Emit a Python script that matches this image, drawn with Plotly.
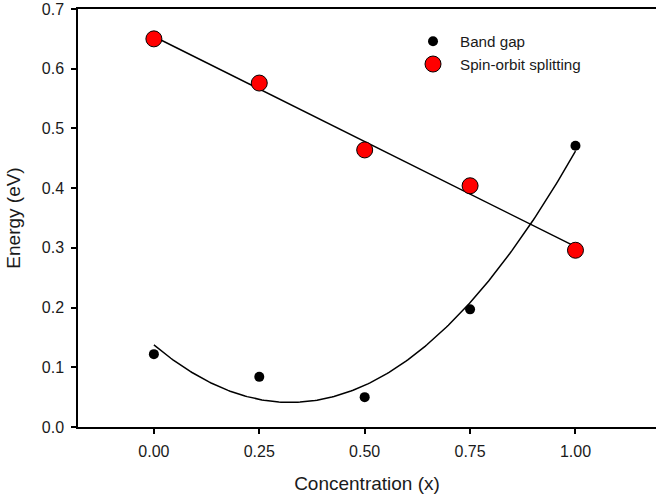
import numpy as np
import plotly.graph_objects as go

concentration = [0.00, 0.25, 0.50, 0.75, 1.00]
band_gap = [0.122, 0.084, 0.050, 0.197, 0.471]
spin_orbit = [0.650, 0.576, 0.464, 0.404, 0.296]

x_ticks = [0.00, 0.25, 0.50, 0.75, 1.00]
x_tick_labels = ["0.00", "0.25", "0.50", "0.75", "1.00"]
y_ticks = [0.0, 0.1, 0.2, 0.3, 0.4, 0.5, 0.6, 0.7]
y_tick_labels = ["0.0", "0.1", "0.2", "0.3", "0.4", "0.5", "0.6", "0.7"]

xs = np.linspace(min(concentration), max(concentration), 200)
bg_fit = np.polyval(np.polyfit(concentration, band_gap, 2), xs)
so_fit = np.polyval(np.polyfit(concentration, spin_orbit, 1), xs)

font = "Liberation Sans, Arial, sans-serif"
fig = go.Figure()
fig.add_trace(go.Scatter(x=xs, y=bg_fit, mode="lines", line=dict(color="black", width=1.5),
                         showlegend=False, hoverinfo="skip"))
fig.add_trace(go.Scatter(x=xs, y=so_fit, mode="lines", line=dict(color="black", width=1.5),
                         showlegend=False, hoverinfo="skip"))
fig.add_trace(go.Scatter(x=concentration, y=band_gap, mode="markers", name="Band gap",
                         marker=dict(color="black", size=10, line=dict(width=0))))
fig.add_trace(go.Scatter(x=concentration, y=spin_orbit, mode="markers", name="Spin-orbit splitting",
                         marker=dict(color="#ff0000", size=16, line=dict(color="black", width=1))))

fig.update_layout(
    width=656, height=502,
    margin=dict(l=78, r=0, t=9, b=75),
    paper_bgcolor="white", plot_bgcolor="white",
    font=dict(family=font, size=16, color="#1a1a1a"),
    legend=dict(x=0.5675, y=0.962, xanchor="left", yanchor="top", bgcolor="rgba(0,0,0,0)",
                font=dict(size=15.2, color="#1a1a1a"), tracegroupgap=0, itemwidth=44),
    xaxis=dict(range=[-0.180, 1.191], tickvals=x_ticks, ticktext=x_tick_labels,
               showgrid=False, zeroline=False, showline=True, linecolor="black", linewidth=1.5,
               mirror=True, ticks="outside", ticklen=5, tickwidth=1.5, tickcolor="black",
               ticklabelstandoff=4,
               title=dict(text="Concentration (x)", font=dict(size=19), standoff=18)),
    yaxis=dict(range=[0, 0.7], tickvals=y_ticks, ticktext=y_tick_labels,
               showgrid=False, zeroline=False, showline=True, linecolor="black", linewidth=1.5,
               ticks="outside", ticklen=5, tickwidth=1.5, tickcolor="black",
               ticklabelstandoff=4,
               title=dict(text="Energy (eV)", font=dict(size=19), standoff=16)),
)
fig.write_html("out.html")
